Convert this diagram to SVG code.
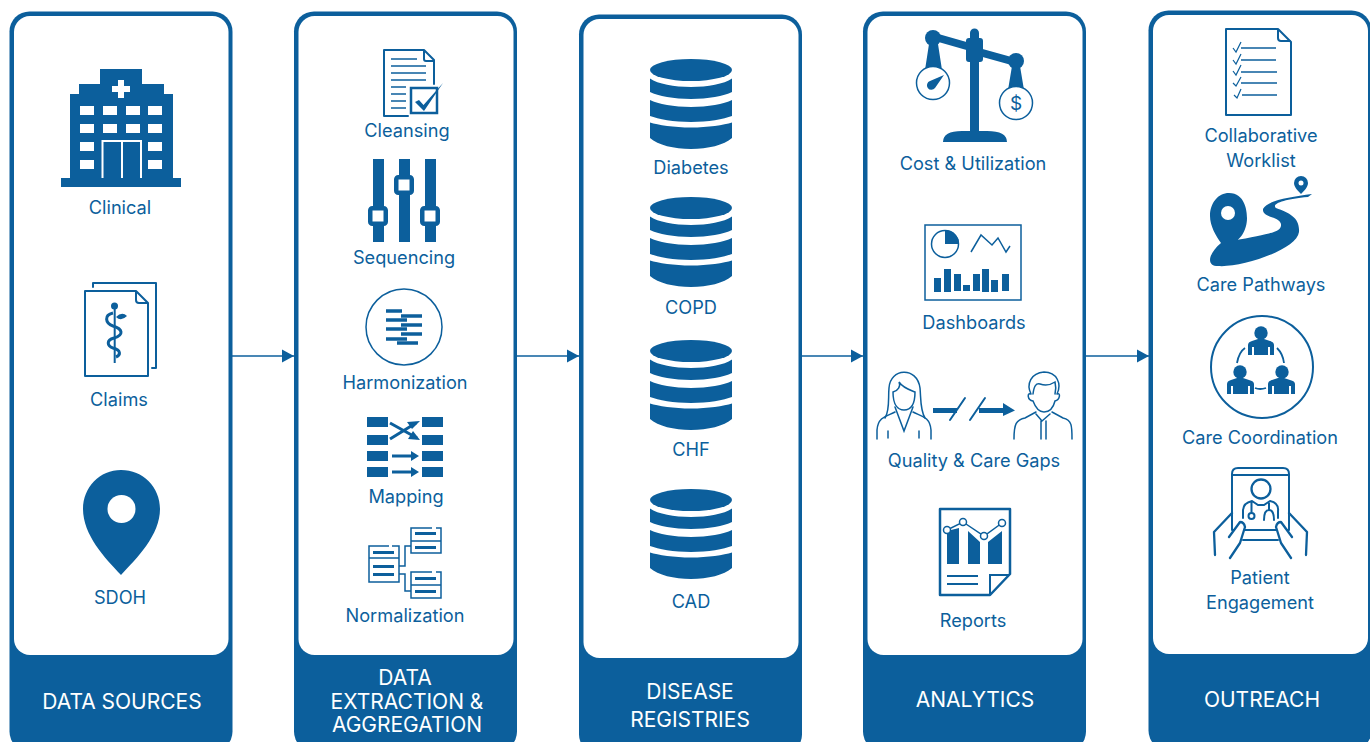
<svg xmlns="http://www.w3.org/2000/svg" width="1370" height="742" viewBox="0 0 1370 742">
<style>
text{font-family:"Inter","Liberation Sans",sans-serif;fill:#0c5f9c;font-size:18.2px;text-anchor:middle}
.h{fill:#fff;font-size:21px}
.b{fill:#0c5f9c}
.w{fill:#fff}
.s{fill:none;stroke:#0c5f9c;stroke-width:2;stroke-linejoin:round;stroke-linecap:round}
.c{stroke:#0c5f9c;stroke-width:1.500;fill:none}
</style>
<defs>
<marker id="a" markerWidth="12" markerHeight="14" refX="12" refY="7" orient="auto" markerUnits="userSpaceOnUse"><path d="M0 0.500L12 7L0 13.500Z" fill="#0c5f9c"/></marker>
<g id="db"><ellipse class="b" cx="41" cy="11" rx="41" ry="11"/><path class="b" d="M0 19.500C8 25 24 28 41 28S74 25 82 19.500V33C74 37 58 40 41 40S8 37 0 33Z"/><path class="b" d="M0 41C8 45 24 48 41 48S74 45 82 41V57C74 60 58 63 41 63S8 60 0 57Z"/><path class="b" d="M0 63.500C8 66 24 68.500 41 68.500S74 66 82 63.500V79C74 86 58 90 41 90S8 86 0 79Z"/></g>
</defs>
<rect width="1370" height="742" fill="#fff"/>
<g id="connectors">
<path class="c" d="M232 356H294" marker-end="url(#a)"/>
<path class="c" d="M517 356H579" marker-end="url(#a)"/>
<path class="c" d="M801 356H863" marker-end="url(#a)"/>
<path class="c" d="M1086 356H1149" marker-end="url(#a)"/>
</g>
<g id="panel-sources"><rect class="b" x="9.500" y="11.500" width="223" height="740" rx="20"/><rect class="w" x="14" y="16" width="214.500" height="639" rx="16"/><text class="h" x="122" y="709">DATA SOURCES</text></g>
<g id="panel-extraction"><rect class="b" x="294" y="11.500" width="223" height="740" rx="20"/><rect class="w" x="298.500" y="16" width="215" height="639" rx="16"/><text class="h" x="405" y="685">DATA</text><text class="h" x="407" y="709">EXTRACTION &amp;</text><text class="h" x="407" y="732">AGGREGATION</text></g>
<g id="panel-registries"><rect class="b" x="579" y="14.500" width="223" height="740" rx="20"/><rect class="w" x="583.500" y="19" width="215" height="639" rx="16"/><text class="h" x="690" y="699">DISEASE</text><text class="h" x="690" y="727">REGISTRIES</text></g>
<g id="panel-analytics"><rect class="b" x="863" y="11.500" width="223" height="740" rx="20"/><rect class="w" x="867.500" y="16" width="215" height="639" rx="16"/><text class="h" x="975" y="707">ANALYTICS</text></g>
<g id="panel-outreach"><rect class="b" x="1148.500" y="10.500" width="223" height="740" rx="20"/><rect class="w" x="1153" y="15" width="215" height="639" rx="16"/><text class="h" x="1262" y="707">OUTREACH</text></g>

<g id="clinical">
<path class="b" d="M100 69H142V84H164V94H173V178H181V187H61V178H70V94H79V84H100Z"/>
<path class="w" d="M118 80h6v6h6v6h-6v6h-6v-6h-6v-6h6Z"/>
<g class="w"><rect x="80" y="106" width="14" height="9"/><rect x="103" y="106" width="14" height="9"/><rect x="126" y="106" width="14" height="9"/><rect x="148" y="106" width="14" height="9"/><rect x="80" y="124" width="14" height="9"/><rect x="103" y="124" width="14" height="9"/><rect x="126" y="124" width="14" height="9"/><rect x="148" y="124" width="14" height="9"/><rect x="80" y="142" width="14" height="9"/><rect x="148" y="142" width="14" height="9"/><rect x="80" y="160" width="14" height="9"/><rect x="148" y="160" width="14" height="9"/></g>
<path fill="none" stroke="#fff" stroke-width="2" d="M102.500 178V141H141V178M122 141V178"/>
<text x="120" y="214">Clinical</text>
</g>
<g id="claims">
<path class="s" d="M93 287V283H156V367V368H152"/>
<path class="s" d="M85 291H136L148 303V376H85Z"/>
<path class="s" d="M136 292V300Q136 303 139 303H147"/>
<path class="b" d="M113.700 308h2v55h-2z"/><circle class="b" cx="114.500" cy="306" r="3.500"/>
<path fill="none" stroke="#0c5f9c" stroke-width="3" d="M113 313C104 315 105 323 113 326C123 329 124 335 114 338C106 340 107 346 113 348C121 350 121 355 116 357"/>
<path class="b" d="M116 317Q122 311 127 316Q121 322 116 317Z"/>
<text x="119" y="406">Claims</text>
</g>
<g id="sdoh">
<path class="b" d="M121 470C143 470 160 487 160 509C160 535 137 558 121 575C105 558 83 535 83 509C83 487 100 470 121 470Z"/>
<circle class="w" cx="121.500" cy="509" r="14"/>
<text x="120" y="604">SDOH</text>
</g>

<g id="cleansing">
<path class="s" d="M384 50H424L434 60V84M384 50V116H408" stroke-width="2.500"/>
<path class="s" d="M424 51V59Q424 61 426 61H433" stroke-width="1.500"/>
<path fill="none" stroke="#0c5f9c" stroke-width="1.500" d="M391 59H417M391 66H426M391 73H426M391 80H426M391 87H406M391 94H406M391 101H406M391 108H406"/>
<rect x="411" y="88" width="26" height="25" fill="none" stroke="#0c5f9c" stroke-width="2.500"/>
<path class="b" d="M415 102L419 100L423.500 105L443 83L424 111Z"/>
<text x="407" y="137">Cleansing</text>
</g>
<g id="sequencing">
<path class="b" d="M373 159h11v83h-11zM399 159h11v83h-11zM425 159h11v83h-11z"/>
<g fill="#fff" stroke="#0c5f9c" stroke-width="4.500"><rect x="370.250" y="208.250" width="15.500" height="15.500" rx="2"/><rect x="396.250" y="177.250" width="15.500" height="15.500" rx="2"/><rect x="422.250" y="208.250" width="15.500" height="15.500" rx="2"/></g>
<text x="404" y="264">Sequencing</text>
</g>
<g id="harmonization">
<circle cx="404" cy="327" r="38" fill="none" stroke="#0c5f9c" stroke-width="1.500"/>
<path stroke="#0c5f9c" stroke-width="3.400" d="M386 311H402M401 316H422M386 320H407M401 325H422M386 329H407M401 334H422M386 339H407M397 343H418"/>
<text x="405" y="389">Harmonization</text>
</g>
<g id="mapping">
<path class="b" d="M367 417h21v10h-21zM367 435h21v10h-21zM367 451h21v10h-21zM367 467h21v10h-21zM422 417h21v10h-21zM422 435h21v10h-21zM422 451h21v10h-21zM422 467h21v10h-21z"/>
<path fill="none" stroke="#0c5f9c" stroke-width="3" d="M390 423L417 438M390 439L416 423M392 456H412M392 472H412"/>
<path class="b" d="M420 421L412 429L407 422ZM420 440L408 439L413 431ZM419 456L411 451V461ZM419 472L411 467V477Z"/>
<text x="406" y="503">Mapping</text>
</g>
<g id="normalization">
<g fill="none" stroke="#0c5f9c" stroke-width="1.500"><path d="M389 546H369V582H399V546H392M369 558H399M436 528H441V553H411V528H432M411 541H441M436 572H441V598H411V572H432M411 585H441M399 566H405V546H411M399 574H405V591H411"/></g>
<path class="b" d="M373 551h21v3h-21zM373 565h21v3h-21zM373 573h21v3h-21zM415 532h21v3h-21zM415 546h21v3h-21zM415 577h21v3h-21zM415 590h21v3h-21z"/>
<text x="405" y="622">Normalization</text>
</g>

<g id="diabetes"><use href="#db" x="650" y="59"/><text x="691" y="174">Diabetes</text></g>
<g id="copd"><use href="#db" x="650" y="197"/><text x="691" y="314">COPD</text></g>
<g id="chf"><use href="#db" x="650" y="340"/><text x="691" y="456">CHF</text></g>
<g id="cad"><use href="#db" x="650" y="489"/><text x="691" y="608">CAD</text></g>

<g id="cost">
<path class="b" d="M935 33L970 43V51L935 41ZM979 48L1015 58V66L979 56Z"/>
<path class="b" d="M970 38V33a4.500 4.500 0 0 1 9 0V38H980Q983 38 983 41V59Q983 62 980 62H979V131H987Q1007 131 1007 142H943Q943 131 962 131H970V62H969Q966 62 966 59V41Q966 38 969 38Z"/>
<circle class="b" cx="933" cy="38" r="8"/><circle class="b" cx="1016" cy="61" r="8"/>
<path class="b" d="M929 44H938L942 70H925ZM1012 66H1020L1024 90H1008Z"/>
<circle cx="933" cy="83" r="16.500" fill="#fff" stroke="#0c5f9c" stroke-width="1.500"/>
<circle cx="1016" cy="103" r="16.500" fill="#fff" stroke="#0c5f9c" stroke-width="1.500"/>
<path class="b" d="M930 81L944 75L935 88A4.500 4.500 0 1 1 930 81Z"/>
<text x="1016" y="110" style="font-size:19px">$</text>
<text x="973" y="170">Cost &amp; Utilization</text>
</g>
<g id="dashboards">
<rect x="925" y="225" width="96" height="75" fill="none" stroke="#0c5f9c" stroke-width="1.500"/>
<circle cx="945" cy="244" r="13.500" fill="none" stroke="#0c5f9c" stroke-width="1.500"/>
<path class="b" d="M945 230A14 14 0 0 1 959 244H945Z"/>
<path fill="none" stroke="#0c5f9c" stroke-width="1.500" d="M971 252L981 235L992 245L998 238L1006 252L1010 246"/>
<path class="b" d="M934 278h7v14h-7zM944 269h7v23h-7zM954 274h7v17h-7zM963 285h7v6h-7zM973 274h7v17h-7zM982 269h7v23h-7zM991 280h7v12h-7zM1002 274h7v17h-7z"/>
<text x="974" y="329">Dashboards</text>
</g>
<g id="quality">
<g fill="none" stroke="#0c5f9c" stroke-width="1.500" stroke-linecap="round">
<path d="M885 418C890 410 888 398 889 388C890 368 917 366 920 388C921 398 920 410 925 418"/>
<path d="M893 392C898 391 901 386 899 382C903 388 910 390 915 392C915 408 909 410 904 410C898 410 893 405 893 392Z"/>
<path d="M895 407L904 431L913 407M895 412C888 416 878 416 877 430V439M913 412C920 416 930 416 931 430V439M888 431V438M919 431V438"/>
<path d="M1031 394C1026 384 1031 373 1044 372C1057 372 1062 384 1057 394M1031 394C1027 392 1027 400 1033 401C1036 409 1040 412 1044 412C1049 412 1053 409 1055 401C1060 400 1061 392 1057 394M1033 394C1034 386 1036 383 1040 384C1046 386 1052 384 1055 382C1056 386 1056 390 1055 394"/>
<path d="M1036 412L1025 418C1016 420 1014 424 1014 439M1052 412L1063 418C1072 420 1072 426 1072 439M1036 414L1042 421L1050 414M1041 421V439M1046 421V439"/>
<path d="M950 420L965 398M970 420L985 398" stroke-width="2"/>
</g>
<path class="b" d="M933 408h24v5h-24zM979 408h24v5h-24zM1003 403L1015 410.500L1003 416Z"/>
<text x="974" y="467">Quality &amp; Care Gaps</text>
</g>
<g id="reports">
<path fill="none" stroke="#0c5f9c" stroke-width="2.500" stroke-linejoin="round" d="M940 509H1010V574L990 595H940Z"/>
<path fill="none" stroke="#0c5f9c" stroke-width="2" d="M990 595V575H1009"/>
<path class="b" d="M947 531L959 528V564H947ZM968 531L980 542V564H968ZM988 542L1002 531V564H988Z"/>
<path fill="none" stroke="#0c5f9c" stroke-width="2" d="M947 576H978M947 584H978"/>
<path fill="none" stroke="#0c5f9c" stroke-width="1.500" d="M947 530L963 522L984 536L1002 523"/>
<g fill="#fff" stroke="#0c5f9c" stroke-width="1.500"><circle cx="947" cy="530" r="3.500"/><circle cx="963" cy="522" r="3.500"/><circle cx="984" cy="536" r="3.500"/><circle cx="1002" cy="523" r="3.500"/></g>
<text x="973" y="627">Reports</text>
</g>

<g id="worklist">
<path class="s" d="M1226 29H1278L1291 42V115H1226Z" stroke-width="1.800"/>
<path class="s" d="M1278 30V38Q1278 41 1281 41H1290" stroke-width="1.500"/>
<path fill="none" stroke="#0c5f9c" stroke-width="1.500" d="M1241 48H1276M1241 60H1276M1241 72H1277M1241 83H1277M1242 95H1277"/>
<path fill="none" stroke="#0c5f9c" stroke-width="1.200" d="M1233 48L1236 52L1241 42M1233 60L1236 64L1241 54M1233 71L1236 75L1241 65M1233 83L1236 86L1241 77M1234 95L1237 98L1241 89"/>
<text x="1261" y="142">Collaborative</text><text x="1261" y="167">Worklist</text>
</g>
<g id="pathways">
<path class="b" d="M1229 193C1245 193 1247 211 1247 218C1247 232 1238 243 1232 241C1270 234 1282 232 1281 224C1279 216 1262 218 1263 209C1268 200 1290 197 1312 194L1308 197C1284 199 1271 204 1276 208C1290 213 1300 218 1299 232C1297 250 1240 268 1218 266C1206 266 1208 254 1221 243C1216 236 1210 226 1210 216C1210 203 1218 193 1229 193Z"/>
<circle class="w" cx="1228" cy="213" r="7"/>
<path class="b" d="M1301 176a7 7 0 0 1 7 7c0 4-4 8-7 11c-3-3-7-7-7-11a7 7 0 0 1 7-7Z"/>
<circle class="w" cx="1301" cy="183" r="2.500"/>
<text x="1261" y="291">Care Pathways</text>
</g>
<g id="coordination">
<circle cx="1262" cy="367" r="51" fill="none" stroke="#0c5f9c" stroke-width="2"/>
<g class="b"><circle cx="1261" cy="333" r="6.700"/><path d="M1248 355V345Q1248 342 1252 341L1258 339H1264L1270 341Q1274 342 1274 345V355H1270V347H1268V355H1254V347H1252V355Z"/></g>
<g class="b"><circle cx="1240" cy="372" r="6.700"/><path d="M1227 394V384Q1227 381 1231 380L1237 378H1243L1249 380Q1254 381 1254 384V394H1250V386H1248V394H1233V386H1231V394Z"/><circle cx="1282" cy="372" r="6.700"/><path d="M1268 394V384Q1268 381 1272 380L1278 378H1284L1290 380Q1295 381 1295 384V394H1291V386H1289V394H1274V386H1272V394Z"/></g>
<path fill="none" stroke="#0c5f9c" stroke-width="1.800" d="M1237 363Q1239 352 1245 348M1277 348Q1283 354 1284 363M1255 388Q1260 390 1266 388"/>
<text x="1260" y="444">Care Coordination</text>
</g>
<g id="engagement">
<path class="s" d="M1240 530H1232V474Q1232 468 1238 468H1283Q1289 468 1289 474V530H1281M1232 475H1289M1243 530H1278M1243 540H1278" stroke-width="2.300"/>
<circle cx="1261" cy="489" r="9.500" fill="none" stroke="#0c5f9c" stroke-width="2.300"/>
<path fill="none" stroke="#0c5f9c" stroke-width="2" stroke-linecap="round" d="M1243 518V511Q1243 503 1252 501L1258 505H1264L1270 501Q1279 503 1278 511V518M1251.500 503V512M1269 503V510M1264 520Q1264 510 1269 510Q1274 510 1274 520"/>
<circle cx="1251.500" cy="516" r="3" fill="none" stroke="#0c5f9c" stroke-width="2"/>
<path fill="#fff" stroke="#0c5f9c" stroke-width="2.300" stroke-linecap="round" stroke-linejoin="round" d="M1232 513L1214 532L1215 555M1229 537L1240 522Q1244 522 1245 527L1240 543L1230 558M1289 513L1307 532L1306 555M1292 537L1281 522Q1277 522 1276 527L1281 543L1291 558"/>
<text x="1260" y="584">Patient</text><text x="1260" y="609">Engagement</text>
</g>
</svg>
